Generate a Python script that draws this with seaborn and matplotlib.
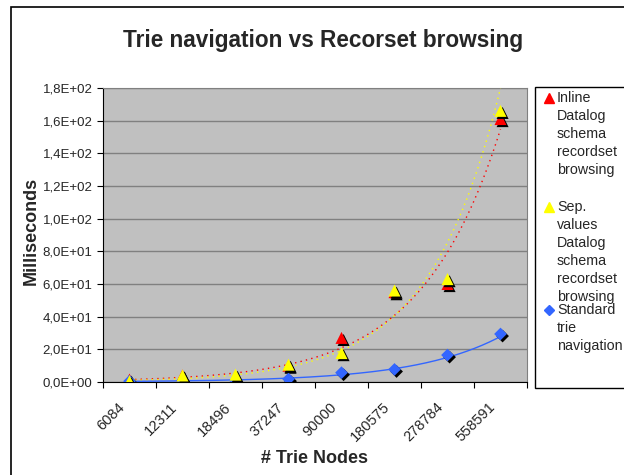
import numpy as np
import pandas as pd
import seaborn as sns
import matplotlib
matplotlib.use("Agg")
import matplotlib.pyplot as plt
import matplotlib.patheffects as pe
import matplotlib.transforms as mtrans
from matplotlib.patches import Rectangle
from matplotlib.ticker import FuncFormatter, FixedLocator

# data
nodes = ["6084", "12311", "18496", "37247", "90000", "180575", "278784", "558591"]
inline_ms = [1.5, 4.0, 3.0, 10.0, 27.0, 55.0, 60.0, 161.0]
sep_ms = [0.5, 4.0, 4.5, 10.6, 17.7, 56.0, 63.0, 166.0]
std_ms = [0.5, 0.8, 0.8, 1.8, 5.7, 7.7, 16.5, 29.4]

labels = ["Inline\nDatalog\nschema\nrecordset\nbrowsing",
          "Sep.\nvalues\nDatalog\nschema\nrecordset\nbrowsing",
          "Standard\ntrie\nnavigation"]

sns.set_style("white")
plt.rcParams["font.family"] = ["Liberation Sans", "DejaVu Sans"]

pos = np.arange(1, len(nodes) + 1)
df = pd.DataFrame({"pos": pos, "inline": inline_ms, "sep": sep_ms, "std": std_ms})

fig = plt.figure(figsize=(6.24, 4.75), dpi=100)
ax = fig.add_axes([103 / 624, 1 - 382 / 475, 424 / 624, 294 / 475])
ax.set_facecolor("#c0c0c0")

# exponential trendlines (like Excel)
xs = np.linspace(1, 8, 200)
trend_styles = [("inline", "#ff0000", (0, (1, 3))),
                ("sep", "#ffff00", (0, (1, 3))),
                ("std", "#3366ff", "-")]
for col, c, ls in trend_styles:
    b, a = np.polyfit(df["pos"], np.log(df[col]), 1)
    sns.lineplot(x=xs, y=np.exp(a + b * xs), ax=ax, color=c, lw=1.0,
                 linestyle=ls, zorder=3, legend=False)

shadow = [pe.SimplePatchShadow(offset=(1.5, -1.5), shadow_rgbFace="black", alpha=1.0),
          pe.Normal()]
series = [("inline", "#ff0000", "^", 75), ("sep", "#ffff00", "^", 75), ("std", "#3366ff", "D", 42)]
for col, c, m, s in series:
    sns.scatterplot(data=df, x="pos", y=col, ax=ax, color=c, marker=m, s=s,
                    edgecolor="none", zorder=4 if col != "sep" else 5,
                    path_effects=shadow, legend=False)

ax.set_xlim(0.5, 8.5)
ax.set_ylim(0, 180)
ax.set_yticks(np.arange(0, 181, 20))
ax.yaxis.set_major_formatter(FuncFormatter(
    lambda v, p: ("%.1E" % v).replace(".", ",")))
ax.grid(axis="y", color="#808080", lw=1)
ax.set_axisbelow(True)

ax.xaxis.set_major_locator(FixedLocator(np.arange(0.5, 9, 1)))
ax.xaxis.set_major_formatter(FuncFormatter(lambda v, p: ""))
ax.xaxis.set_minor_locator(FixedLocator(pos))
ax.set_xticklabels(nodes, minor=True, rotation=45, ha="right", rotation_mode="anchor")
ax.tick_params(axis="x", which="major", length=4, color="black", direction="out", bottom=True)
ax.tick_params(axis="x", which="minor", length=0, pad=13, labelsize=10.5)
ax.tick_params(axis="y", length=4, color="black", direction="out", left=True, labelsize=9.5)
shift = mtrans.ScaledTranslation(-12 / 100, 0, fig.dpi_scale_trans)
for lbl in ax.get_xticklabels(minor=True):
    lbl.set_transform(lbl.get_transform() + shift)

for side in ["top", "right"]:
    ax.spines[side].set_color("#808080")
for side in ["left", "bottom"]:
    ax.spines[side].set_color("black")

ax.set_xlabel("# Trie Nodes", fontsize=13, fontweight="bold")
ax.set_ylabel("Milliseconds", fontsize=13, fontweight="bold")
ax.xaxis.set_label_coords(0.498, (382 - 450) / 294)
ax.yaxis.set_label_coords((40 - 103) / 424, 0.514)
fig.text(0.518, 1 - 40 / 475, "Trie navigation vs Recorset browsing",
         ha="center", va="center", fontsize=16.3, fontweight="bold")

# legend box on the right (partly cut off, as in the original)
fig.patches.append(Rectangle((535 / 624, 1 - 388 / 475), 0.3, 301 / 475,
                             transform=fig.transFigure, facecolor="white",
                             edgecolor="black", lw=1, zorder=1))
entry_y = [98, 207, 310]
for (col, c, m, s), lab, yy in zip(series, labels, entry_y):
    yf = 1 - yy / 475
    fig.lines.append(plt.Line2D([549 / 624], [yf], color=c, marker=m,
                                markersize=7.5 if m == "^" else 5.5,
                                linestyle="none", transform=fig.transFigure,
                                zorder=2))
    fig.text(557 / 624, 1 - (yy - 7) / 475, lab, ha="left", va="top",
             fontsize=10.3, linespacing=1.36, zorder=2)

fig.patches.append(Rectangle((11 / 624, -0.1), 1.0, 1 - 7 / 475 + 0.1,
                             transform=fig.transFigure, fill=False,
                             edgecolor="black", lw=1.2, zorder=0))

fig.savefig("out.png", dpi=100)
